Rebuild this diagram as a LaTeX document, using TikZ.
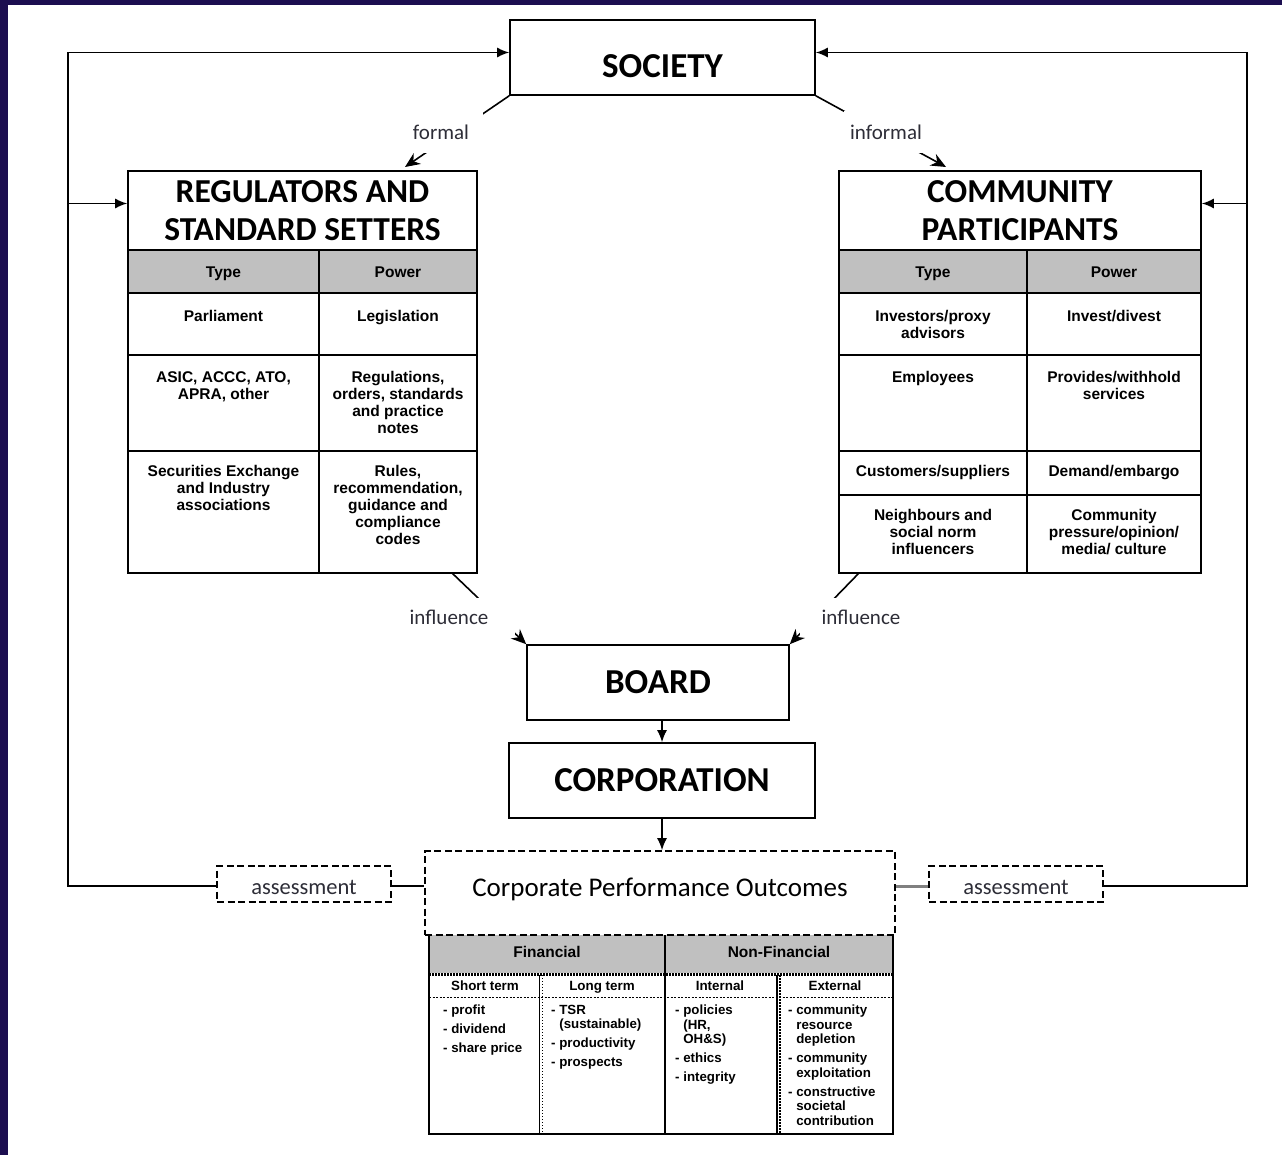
\documentclass[tikz,border=0pt]{standalone}
\usepackage{fontspec}
\setmainfont{Carlito}
\newfontfamily\cellfont{Liberation Sans}
\usetikzlibrary{arrows.meta,calc}

\definecolor{framenavy}{RGB}{28,14,80}
\definecolor{headgray}{RGB}{192,192,192}
\definecolor{labelink}{RGB}{45,45,55}

\tikzset{
  boxline/.style={line width=1.6pt},
  arr/.style={boxline,-{Latex[length=12pt,width=10pt]}},
  flowarr/.style={boxline,-{Stealth[length=15pt,width=13pt]}},
  box/.style={draw,boxline,inner sep=0pt},
  dashbox/.style={draw,line width=1.6pt,dash pattern=on 7pt off 3.5pt,inner sep=0pt},
  bigword/.style={font=\fontsize{35}{40}\selectfont\bfseries},
  tabtitle/.style={box,align=center,font=\fontsize{33.5}{38}\selectfont\bfseries},
  flowlabel/.style={font=\fontsize{21}{24}\selectfont,text=labelink,fill=white,inner sep=0pt},
  assesstext/.style={font=\fontsize{22.5}{26}\selectfont,text=labelink,text height=20pt,text depth=0pt},
  celltext/.style={font=\cellfont\bfseries\fontsize{15.5}{17}\selectfont,align=center,anchor=north,inner sep=0pt},
  colhead/.style={font=\cellfont\bfseries\fontsize{15.5}{17}\selectfont,inner sep=0pt,text height=11pt,text depth=3pt},
  subhead/.style={font=\cellfont\bfseries\fontsize{13.4}{15}\selectfont,inner sep=0pt,text height=10pt,text depth=3pt},
  itemlist/.style={font=\cellfont\bfseries\fontsize{13.3}{14.5}\selectfont,align=left,anchor=north west,inner sep=0pt},
}

\begin{document}
\begin{tikzpicture}[x=1pt,y=-1pt]
\useasboundingbox (0,0) rectangle (1282,1155);
\fill[white] (0,0) rectangle (1282,1155);
\fill[framenavy] (0,0) rectangle (8,1155);
\fill[framenavy] (0,0) rectangle (1282,5);

% main chain
\node[box,bigword,minimum width=305pt,minimum height=75pt,text height=40.5pt,text depth=0pt] (society) at (662.5,57.5) {SOCIETY};
\node[box,bigword,minimum width=262pt,minimum height=75pt] (board) at (658,682.5) {BOARD};
\node[box,bigword,minimum width=306pt,minimum height=75pt] (corp) at (662,780.5) {CORPORATION};

% regulators table
\fill[headgray] (128,250) rectangle (477,293);
\node[tabtitle,minimum width=349pt,minimum height=79pt] (regT) at (302.5,210.5) {REGULATORS AND\\STANDARD SETTERS};
\draw[boxline] (128,250) rectangle (477,573);
\draw[boxline] (319,250) -- (319,573);
\foreach \y in {293,355,451} \draw[boxline] (128,\y) -- (477,\y);
\node[colhead] (regType) at (223.5,274) {Type};
\node[colhead] (regPower) at (398,274) {Power};
\node[celltext] (reg1a) at (223.5,310) {Parliament};
\node[celltext] (reg1b) at (398,310) {Legislation};
\node[celltext] (reg2a) at (223.5,371) {ASIC, ACCC, ATO,\\APRA, other};
\node[celltext] (reg2b) at (398,371) {Regulations,\\orders, standards\\and practice\\notes};
\node[celltext] (reg3a) at (223.5,465) {Securities Exchange\\and Industry\\associations};
\node[celltext] (reg3b) at (398,465) {Rules,\\recommendation,\\guidance and\\compliance\\codes};

% community table
\fill[headgray] (839,250) rectangle (1201,293);
\node[tabtitle,minimum width=362pt,minimum height=79pt] (commT) at (1020,210.5) {COMMUNITY\\PARTICIPANTS};
\draw[boxline] (839,250) rectangle (1201,573);
\draw[boxline] (1027,250) -- (1027,573);
\foreach \y in {293,355,451,495} \draw[boxline] (839,\y) -- (1201,\y);
\node[colhead] (commType) at (933,274) {Type};
\node[colhead] (commPower) at (1114,274) {Power};
\node[celltext] (comm1a) at (933,310) {Investors/proxy\\advisors};
\node[celltext] (comm1b) at (1114,310) {Invest/divest};
\node[celltext] (comm2a) at (933,371) {Employees};
\node[celltext] (comm2b) at (1114,371) {Provides/withhold\\services};
\node[celltext] (comm3a) at (933,465) {Customers/suppliers};
\node[celltext] (comm3b) at (1114,465) {Demand/embargo};
\node[celltext] (comm4a) at (933,509) {Neighbours and\\social norm\\influencers};
\node[celltext] (comm4b) at (1114,509) {Community\\pressure/opinion/\\media/ culture};

% formal and informal routes, influence on the board
\coordinate (formalEnd) at (405,167);
\coordinate (informalEnd) at (946,167);
\coordinate (regFoot) at (452,573);
\coordinate (commFoot) at (859,573);
\draw[flowarr] (society.south west) -- (formalEnd);
\draw[flowarr] (society.south east) -- (informalEnd);
\draw[flowarr] (regFoot) -- (board.north west);
\draw[flowarr] (commFoot) -- (board.north east);
\node[flowlabel,minimum width=84pt,minimum height=42pt] (formal) at (441,132) {formal};
\node[flowlabel,minimum width=84pt,minimum height=42pt] (informal) at (886,132) {informal};
\node[flowlabel,minimum width=132pt,minimum height=39pt] (inflL) at (449,617) {influence};
\node[flowlabel,minimum width=122pt,minimum height=39pt] (inflR) at (861,617) {influence};

\draw[arr] (corp.north |- board.south) -- (corp.north);

% outcomes table
\fill[headgray] (429,935) rectangle (893,973);
\draw[boxline] (429,935) -- (429,1134) -- (893,1134) -- (893,935);
\draw[boxline] (665,935) -- (665,1134);
\draw[line width=3pt,dash pattern=on 1.5pt off 1.5pt] (429,974) -- (893,974);
\draw[line width=1pt,dash pattern=on 2pt off 1.5pt] (429,997) -- (893,997);
\draw[line width=1pt] (539,975) -- (539,1134);
\draw[line width=1pt,dotted] (542,975) -- (542,1134);
\draw[line width=2pt] (777,975) -- (777,1134);
\draw[line width=1.2pt,dash pattern=on 1.5pt off 1.5pt] (780,975) -- (780,1134);
\node[colhead] (fin) at (547,953) {Financial};
\node[colhead] (nonfin) at (779,953) {Non-Financial};
\node[subhead] (shortT) at (485,987) {Short term};
\node[subhead] (longT) at (602,987) {Long term};
\node[subhead] (internal) at (720,987) {Internal};
\node[subhead] (external) at (835,987) {External};
\node[itemlist] (shortList) at (443,1005) {- profit\\[4.5pt]- dividend\\[4.5pt]- share price};
\node[itemlist] (longList) at (551,1005) {- TSR\\\phantom{- }(sustainable)\\[4.5pt]- productivity\\[4.5pt]- prospects};
\node[itemlist] (intList) at (675,1005) {- policies\\\phantom{- }(HR,\\\phantom{- }OH\&S)\\[4.5pt]- ethics\\[4.5pt]- integrity};
\node[itemlist] (extList) at (788,1005) {- community\\\phantom{- }resource\\\phantom{- }depletion\\[4.5pt]- community\\\phantom{- }exploitation\\[4.5pt]- constructive\\\phantom{- }societal\\\phantom{- }contribution};

\node[dashbox,minimum width=470pt,minimum height=84pt,text height=17.4pt,text depth=10pt,font=\fontsize{27}{30}\selectfont] (outcome) at (660,893) {Corporate Performance Outcomes};
\draw[arr] (corp.south) -- (corp.south |- outcome.north);

% assessment feeding back to society
\node[dashbox,assesstext,minimum width=174pt,minimum height=36pt] (assessL) at (304,884) {assessment};
\node[dashbox,assesstext,minimum width=174pt,minimum height=36pt] (assessR) at (1016,884) {assessment};
\coordinate (loopL) at (68,886);
\coordinate (loopR) at (1247,886);
\draw[boxline] (assessL.east |- loopL) -- (outcome.west |- loopL);
\draw[gray,line width=3pt] (outcome.east |- loopR) -- (assessR.west |- loopR);
\draw[arr] (assessL.west |- loopL) -- (loopL) |- ($(society.west)+(0,-5)$);
\draw[arr] (assessR.east |- loopR) -- (loopR) |- ($(society.east)+(0,-5)$);
\draw[arr] ($(loopL |- regT.west)+(0,-7)$) -- ($(regT.west)+(0,-7)$);
\draw[arr] ($(loopR |- commT.east)+(0,-7)$) -- ($(commT.east)+(0,-7)$);
\end{tikzpicture}
\end{document}
